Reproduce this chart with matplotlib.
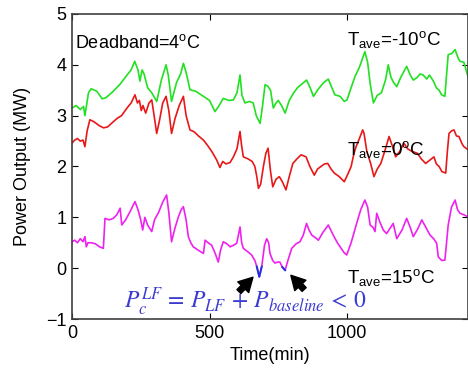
import numpy as np
import matplotlib
matplotlib.use("Agg")
import matplotlib.pyplot as plt

plt.rcParams["font.family"] = ["Liberation Sans", "DejaVu Sans"]
plt.rcParams["mathtext.fontset"] = "custom"
plt.rcParams["mathtext.rm"] = "Liberation Sans"
plt.rcParams["mathtext.it"] = "Liberation Sans:italic"

# Tave = -10 C (verde)
t_verde = [0, 15, 30, 42, 47, 60, 70, 90, 110, 125, 150, 175, 200, 215, 228, 240, 247, 255, 262, 275,
           290, 308, 325, 342, 350, 362, 380, 395, 405, 415, 429, 450, 478, 500, 520, 535, 550, 570, 587, 600,
           611, 618, 629, 645, 659, 670, 684, 693, 702, 712, 722, 732, 742, 750, 762, 775, 790, 805, 820, 835,
           853, 866, 878, 895, 915, 932, 945, 956, 975, 990, 1000, 1015, 1029, 1045, 1065, 1075, 1085, 1096, 1110, 1125,
           1140, 1150, 1160, 1170, 1181, 1195, 1210, 1217, 1230, 1241, 1255, 1265, 1277, 1290, 1300, 1314, 1325, 1335, 1344, 1356,
           1362, 1368, 1380, 1393, 1405, 1411, 1425, 1440]
p_verde = [3.15, 3.20, 3.12, 3.18, 3.00, 3.45, 3.53, 3.48, 3.33, 3.36, 3.48, 3.62, 3.80, 3.90, 4.07, 3.90, 3.68, 3.90, 3.82, 3.55,
           3.45, 3.28, 3.70, 4.00, 3.80, 3.28, 3.65, 3.82, 4.03, 3.85, 3.51, 3.48, 3.38, 3.30, 3.08, 3.20, 3.34, 3.30, 3.31, 3.45,
           3.80, 3.40, 3.25, 3.28, 3.25, 3.00, 2.85, 3.20, 3.61, 3.58, 3.50, 3.15, 3.25, 3.30, 3.20, 3.05, 3.30, 3.44, 3.55, 3.62,
           3.70, 3.55, 3.38, 3.52, 3.65, 3.72, 3.55, 3.41, 3.38, 3.28, 3.31, 3.55, 3.77, 3.95, 4.26, 4.05, 3.60, 3.25, 3.40, 3.45,
           3.70, 4.00, 3.75, 3.65, 3.57, 3.75, 3.90, 3.97, 3.80, 3.70, 3.75, 3.82, 3.80, 3.72, 3.80, 3.68, 3.55, 3.50, 3.41, 3.38,
           3.80, 4.20, 4.22, 4.30, 4.12, 4.07, 4.05, 3.77]

# Tave = 0 C (vermelho)
t_verm = [0, 10, 20, 30, 40, 47, 55, 65, 80, 100, 115, 130, 150, 165, 180, 200, 215, 229, 238, 245,
          252, 258, 268, 280, 290, 300, 308, 318, 330, 342, 352, 362, 375, 390, 405, 415, 429, 445, 460, 478,
          495, 510, 526, 538, 548, 560, 575, 587, 600, 611, 617, 623, 640, 655, 665, 672, 678, 686, 696, 705,
          713, 722, 730, 742, 754, 765, 778, 790, 803, 818, 833, 851, 865, 881, 893, 905, 918, 930, 942, 954,
          972, 990, 1003, 1015, 1025, 1033, 1045, 1057, 1062, 1072, 1086, 1098, 1110, 1123, 1140, 1153, 1165, 1177, 1192, 1207,
          1220, 1235, 1256, 1270, 1286, 1300, 1316, 1325, 1335, 1345, 1359, 1365, 1371, 1380, 1389, 1398, 1407, 1418, 1425, 1440]
p_verm = [2.46, 2.52, 2.55, 2.50, 2.52, 2.39, 2.70, 2.92, 2.88, 2.80, 2.76, 2.78, 2.88, 2.95, 3.00, 3.15, 3.25, 3.41, 3.25, 3.30,
          3.10, 3.20, 3.05, 3.25, 3.31, 2.95, 2.65, 2.90, 3.25, 3.38, 3.10, 2.65, 2.95, 3.20, 3.38, 3.00, 2.72, 2.68, 2.60, 2.52,
          2.40, 2.28, 2.13, 1.98, 2.10, 2.05, 2.08, 2.19, 2.35, 2.69, 2.40, 2.19, 2.15, 2.10, 2.00, 1.80, 1.57, 1.65, 2.00, 2.26,
          2.36, 1.90, 1.60, 1.75, 1.80, 1.70, 1.54, 1.80, 2.06, 2.15, 2.23, 2.19, 2.00, 1.83, 1.95, 2.00, 2.05, 2.06, 1.95, 1.87,
          1.80, 1.70, 1.85, 2.00, 2.25, 2.39, 2.55, 2.72, 2.65, 2.30, 2.06, 1.80, 1.95, 2.06, 2.35, 2.59, 2.40, 2.19, 2.30, 2.46,
          2.35, 2.30, 2.26, 2.15, 2.06, 2.12, 2.19, 2.05, 2.00, 1.90, 1.87, 2.30, 2.65, 2.70, 2.72, 2.60, 2.59, 2.45, 2.39, 2.33]

# Tave = 15 C (magenta)
t_mag = [0, 10, 20, 30, 40, 47, 52, 58, 70, 85, 100, 114, 120, 135, 150, 163, 175, 181, 195, 210,
         229, 240, 250, 257, 265, 275, 290, 300, 315, 330, 344, 352, 362, 375, 387, 397, 405, 415, 423, 432,
         441, 460, 478, 484, 495, 508, 520, 532, 540, 550, 563, 575, 587, 599, 611, 617, 623, 640, 653, 665,
         672, 681, 690, 700, 708, 715, 720, 730, 738, 748, 756, 765, 775, 785, 799, 815, 829, 841, 853, 862,
         872, 885, 896, 912, 932, 950, 965, 975, 990, 999, 1015, 1035, 1050, 1065, 1075, 1084, 1095, 1102, 1108, 1120,
         1132, 1144, 1156, 1168, 1181, 1200, 1217, 1230, 1241, 1258, 1272, 1287, 1302, 1315, 1326, 1332, 1345, 1356, 1362, 1368,
         1380, 1393, 1402, 1411, 1425, 1440]
p_mag = [0.52, 0.55, 0.50, 0.58, 0.52, 0.62, 0.42, 0.50, 0.50, 0.48, 0.42, 0.39, 0.98, 0.95, 0.98, 1.05, 1.18, 0.85, 0.95, 1.10,
         1.31, 1.15, 0.95, 0.75, 1.00, 0.85, 0.72, 0.95, 1.10, 1.30, 1.44, 1.10, 0.52, 0.80, 1.01, 1.15, 1.21, 0.95, 0.62, 0.50,
         0.42, 0.35, 0.29, 0.55, 0.50, 0.45, 0.30, 0.12, 0.35, 0.52, 0.48, 0.42, 0.45, 0.49, 0.81, 0.50, 0.39, 0.32, 0.26, 0.15,
         0.03, -0.17, 0.03, 0.45, 0.58, 0.50, 0.29, 0.15, 0.10, 0.12, 0.12, 0.02, -0.04, 0.15, 0.39, 0.48, 0.52, 0.65, 0.88, 0.75,
         0.65, 0.60, 0.55, 0.70, 0.85, 0.65, 0.50, 0.42, 0.30, 0.26, 0.50, 0.88, 1.15, 1.34, 1.20, 0.85, 0.80, 0.72, 1.08, 0.90,
         0.75, 0.68, 0.78, 0.88, 0.58, 0.75, 0.98, 0.80, 0.62, 0.78, 0.95, 0.80, 0.65, 0.58, 0.49, 0.22, 0.15, 0.16, 0.50, 0.85,
         1.20, 1.34, 1.15, 1.08, 1.05, 1.01]

# trechos em que P_c < 0 (desenhados em azul)
p_neg = np.where(np.array(p_mag) < 0.05, p_mag, np.nan)

fig = plt.figure(figsize=(4.68, 3.80), dpi=100)
ax = fig.add_axes([72 / 468, 61 / 380, 396 / 468, 305 / 380])

ax.plot(t_verde, p_verde, color="#22e022", lw=1.2)
ax.plot(t_verm, p_verm, color="#e81818", lw=1.2)
ax.plot(t_mag, p_mag, color="#ee22ee", lw=1.2)
ax.plot(t_mag, p_neg, color="#2233dd", lw=1.4)

ax.set_xlim(0, 1440)
ax.set_ylim(-1, 5)
ax.set_xticks([0, 500, 1000])
ax.set_yticks([-1, 0, 1, 2, 3, 4, 5])
ax.tick_params(direction="in", top=True, right=True, labelsize=13, length=4, pad=4)
for s in ax.spines.values():
    s.set_color("#404040")
    s.set_linewidth(1.2)

ax.set_xlabel("Time(min)", fontsize=13)
ax.set_ylabel("Power Output (MW)", fontsize=13, labelpad=11)

ax.text(11, 4.33, "Deadband=4$^{\\rm o}$C", fontsize=13, va="baseline")
ax.text(1000, 4.39, "T$_{\\rm ave}$=-10$^{\\rm o}$C", fontsize=13.5, va="baseline")
ax.text(1000, 2.23, "T$_{\\rm ave}$=0$^{\\rm o}$C", fontsize=13.5, va="baseline")
ax.text(1000, -0.30, "T$_{\\rm ave}$=15$^{\\rm o}$C", fontsize=13.5, va="baseline")

ax.text(629, -0.66, "$P_c^{LF}\\,=\\,P_{LF}\\,+\\,P_{baseline}\\,<\\,0$", fontsize=17, color="#3b3bd0",
        ha="center", va="center", math_fontfamily="stix")

seta = dict(arrowstyle="simple,head_width=1.1,head_length=1.0,tail_width=0.4", color="black")
ax.annotate("", xy=(665, -0.14), xytext=(600, -0.50), arrowprops=seta)
ax.annotate("", xy=(789, -0.10), xytext=(851, -0.46), arrowprops=seta)

fig.savefig("out.png", dpi=100)
